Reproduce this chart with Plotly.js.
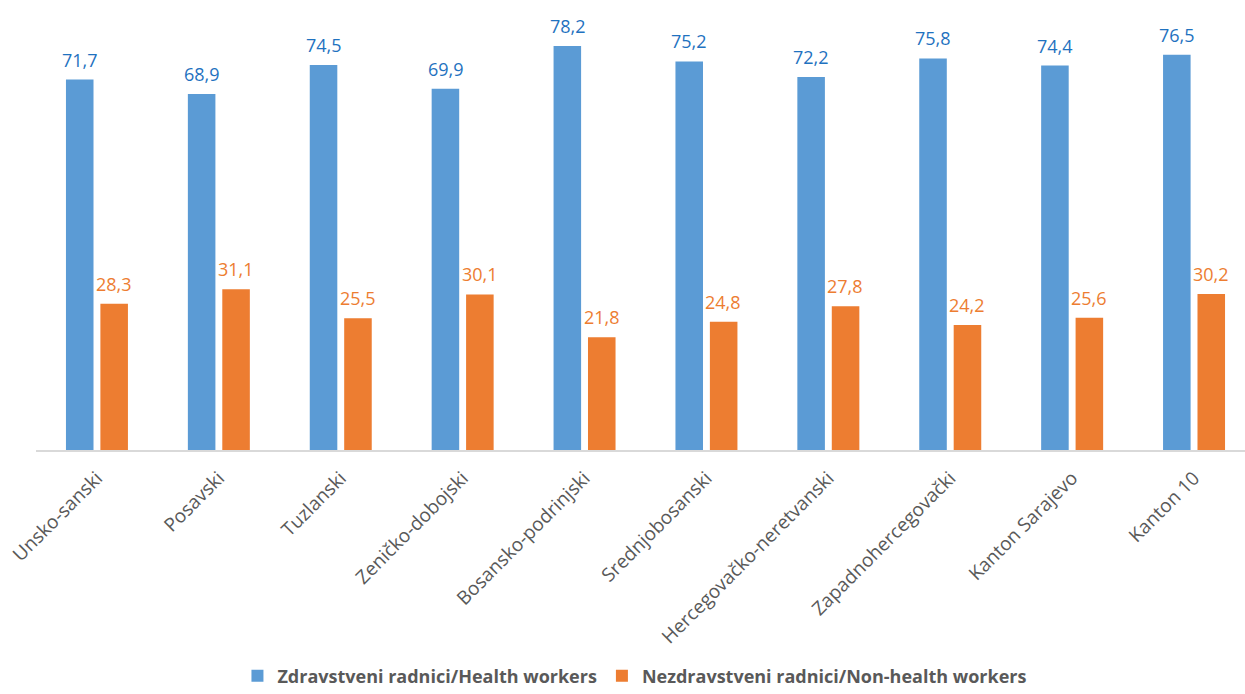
<!DOCTYPE html>
<html>
<head>
<meta charset="utf-8">
<script src="https://cdn.plot.ly/plotly-3.0.1.min.js"></script>
<style>html,body{margin:0;padding:0;background:#fff;}#chart{width:1245px;height:694px;}</style>
</head>
<body>
<div id="chart"></div>
<script>
const categories = ["Unsko-sanski","Posavski","Tuzlanski","Zeničko-dobojski","Bosansko-podrinjski","Srednjobosanski","Hercegovačko-neretvanski","Zapadnohercegovački","Kanton Sarajevo","Kanton 10"];
const healthWorkers = [71.7,68.9,74.5,69.9,78.2,75.2,72.2,75.8,74.4,76.5];
const nonHealthWorkers = [28.3,31.1,25.5,30.1,21.8,24.8,27.8,24.2,25.6,30.2];
const seriesNames = ["Zdravstveni radnici/Health workers","Nezdravstveni radnici/Non-health workers"];

const font = "Open Sans, Noto Sans, sans-serif";
const blue = "#5B9BD5", orange = "#ED7D31", blueText = "#1F72C0";
const traces = [
  {type:"bar", name:seriesNames[0], x:categories, y:healthWorkers,
   marker:{color:blue}, hoverinfo:"skip"},
  {type:"bar", name:seriesNames[1], x:categories, y:nonHealthWorkers,
   marker:{color:orange}, hoverinfo:"skip"}
];
const fmt = v => v.toFixed(1).replace(".", ",");
const annotations = [];
categories.forEach((c, i) => {
  annotations.push({x:c, y:healthWorkers[i], xref:"x", yref:"y", text:fmt(healthWorkers[i]),
    showarrow:false, xshift:-17, yshift:6, yanchor:"bottom", font:{size:18, color:blueText, family:font}});
  annotations.push({x:c, y:nonHealthWorkers[i], xref:"x", yref:"y", text:fmt(nonHealthWorkers[i]),
    showarrow:false, xshift:17, yshift:6, yanchor:"bottom", font:{size:18, color:orange, family:font}});
});
const layout = {
  width:1245, height:694,
  margin:{l:36, r:0, t:0, b:244},
  separators:", ",
  barmode:"group", bargap:0.435, bargroupgap:0.2,
  paper_bgcolor:"#fff", plot_bgcolor:"#fff",
  font:{family:font, color:"#595959"},
  annotations:annotations,
  xaxis:{type:"category", range:[-0.5, 9.418], showline:true, linecolor:"#D9D9D9", linewidth:1.5,
         ticks:"", tickangle:-45, ticklabelstandoff:8, tickfont:{size:19, color:"#595959", family:font}, showgrid:false},
  yaxis:{range:[0,87.1], visible:false, showgrid:false, zeroline:false},
  showlegend:true,
  legend:{orientation:"h", x:0.51, xref:"container", xanchor:"center", y:0.026, yref:"container", yanchor:"middle",
          font:{size:18, color:"#595959", family:font, weight:"bold"}, traceorder:"normal"}
};
Plotly.newPlot("chart", traces, layout, {displayModeBar:false, staticPlot:true});
</script>
</body>
</html>
